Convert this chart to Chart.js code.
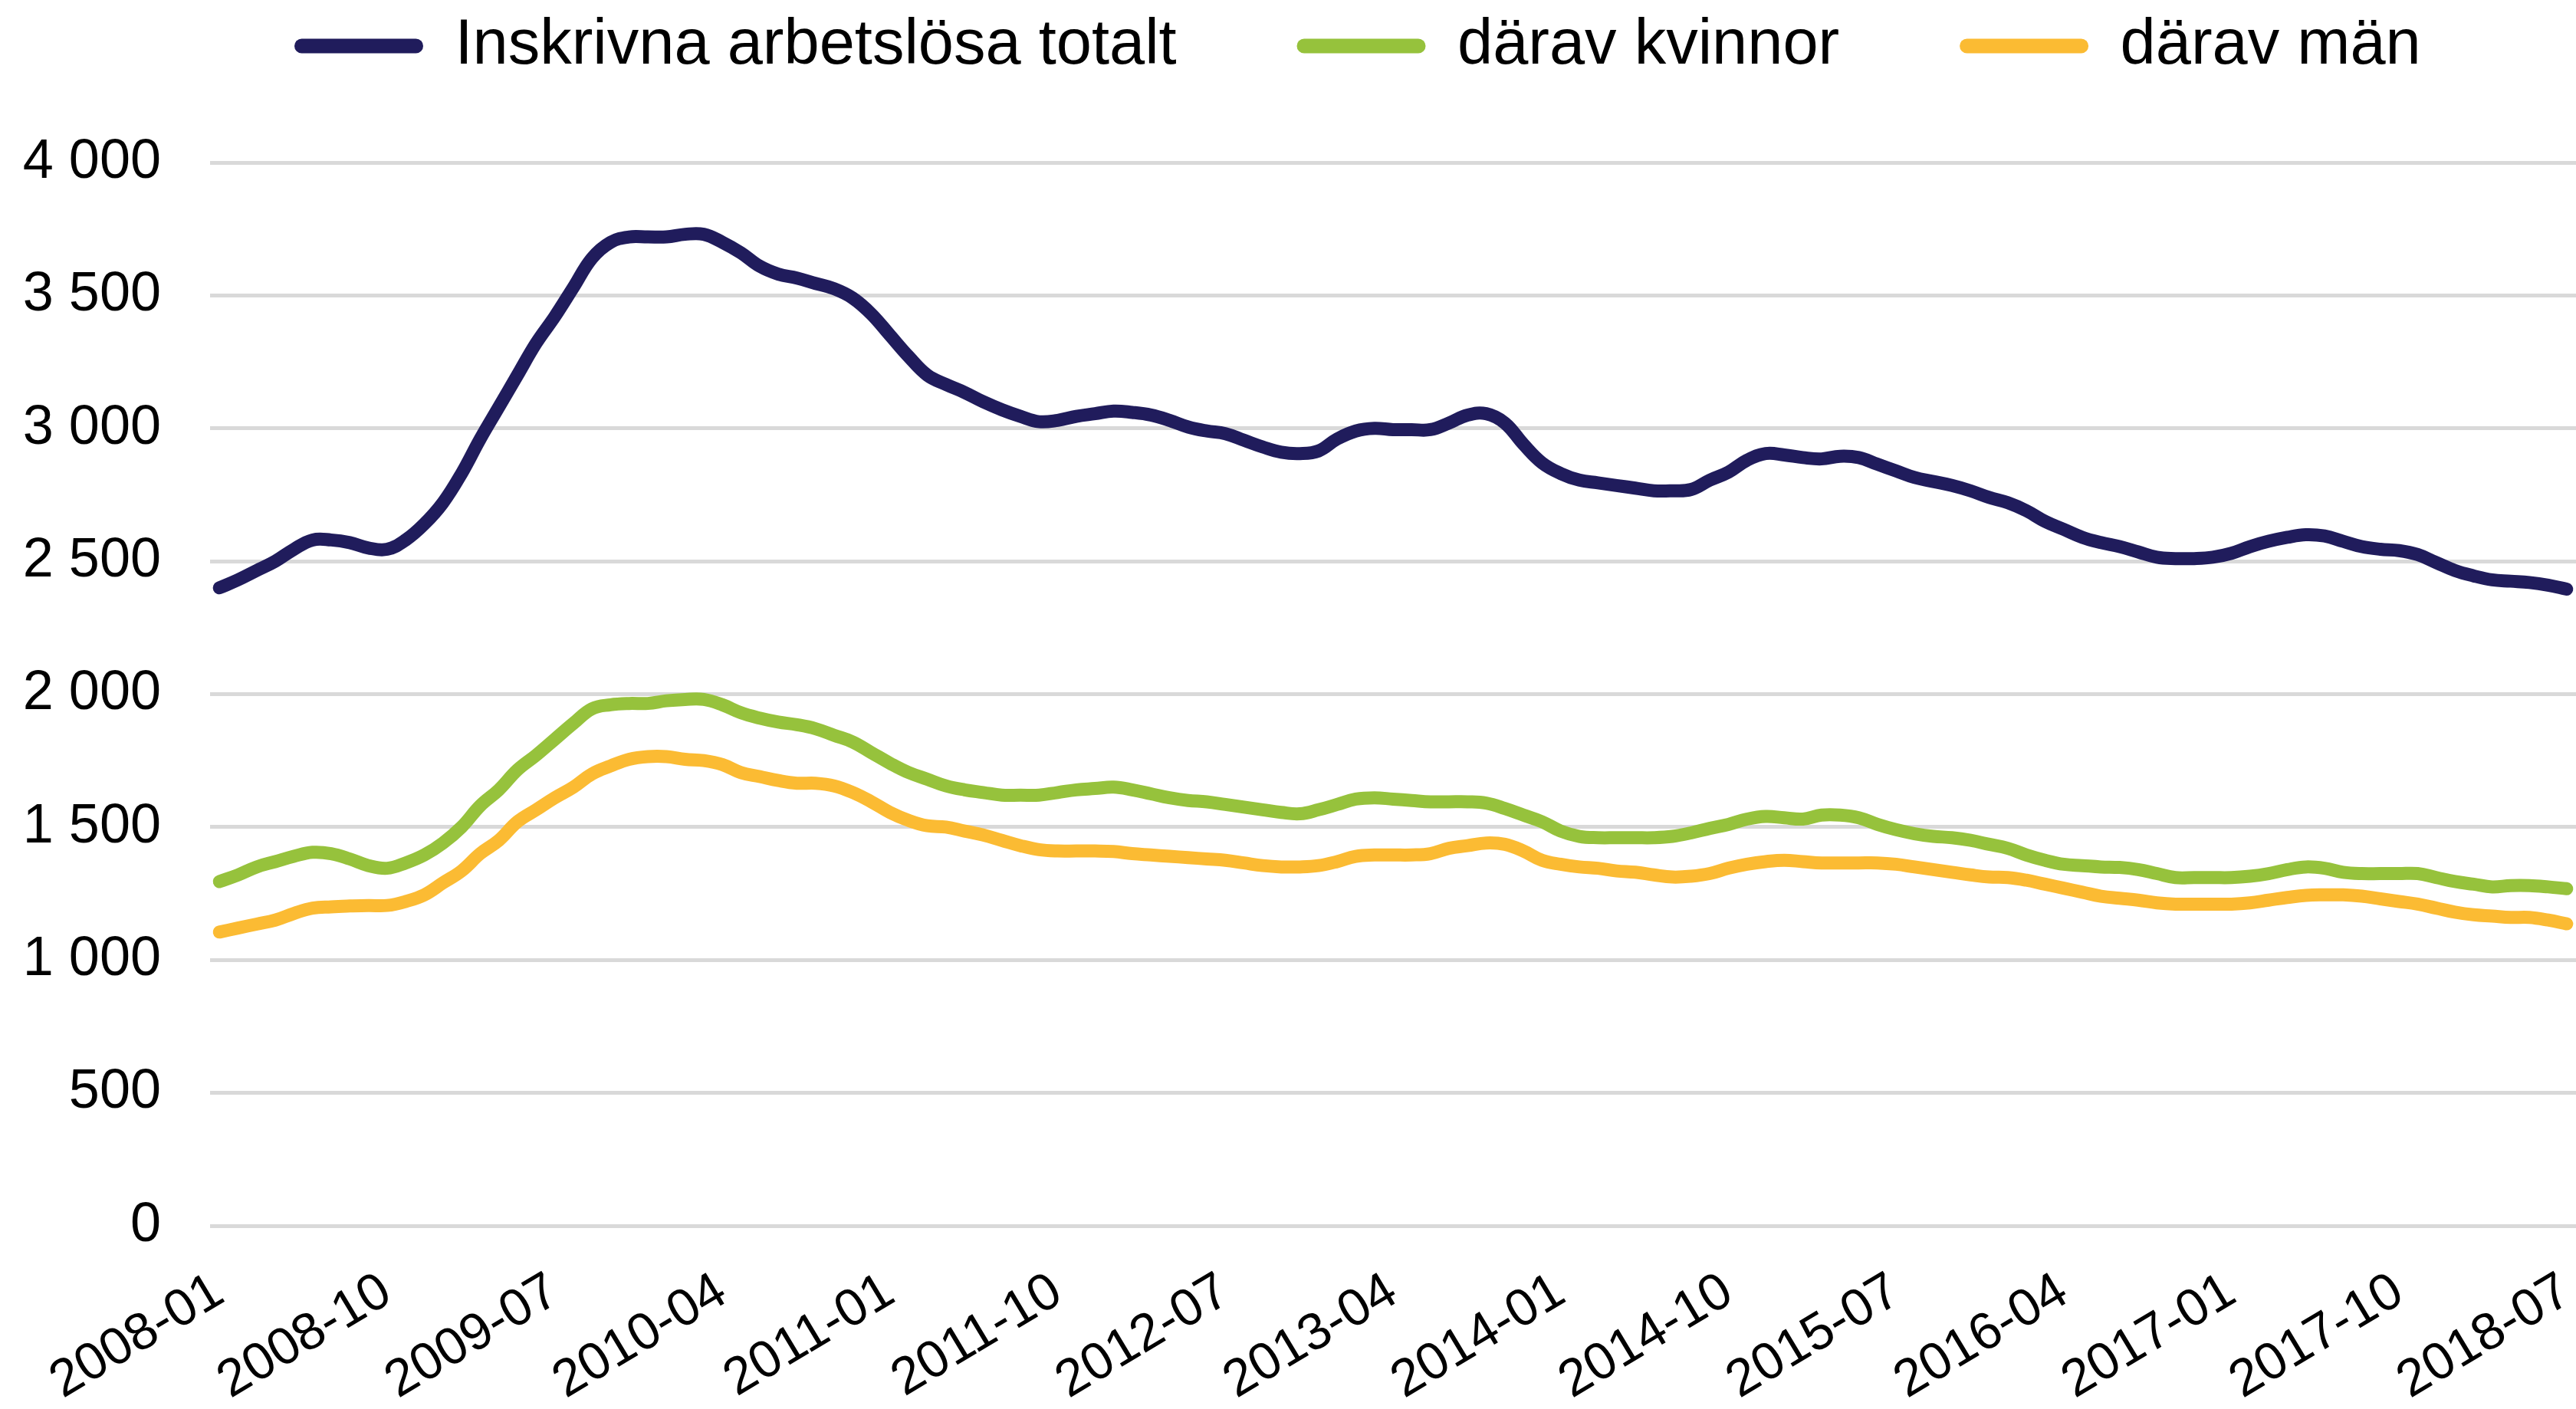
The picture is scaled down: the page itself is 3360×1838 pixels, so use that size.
<!DOCTYPE html>
<html>
<head>
<meta charset="utf-8">
<script src="https://cdn.jsdelivr.net/npm/chart.js@4.4.1/dist/chart.umd.min.js"></script>
<style>
  html, body { margin: 0; padding: 0; background: #fff; }
  #wrap { width: 3360px; height: 1838px; position: relative; }
</style>
</head>
<body>
<div id="wrap"><canvas id="chart"></canvas></div>
<script>
// monthly categories 2008-01 .. 2018-07
const startYear = 2008;
const monthCount = 127;
const months = [];
for (let i = 0; i < monthCount; i++) {
  const y = startYear + Math.floor(i / 12);
  const m = (i % 12) + 1;
  months.push(y + '-' + (m < 10 ? '0' + m : m));
}

const seriesNames = ['Inskrivna arbetslösa totalt', 'därav kvinnor', 'därav män'];
const seriesColors = ['#201c5c', '#96c23c', '#fbbb33'];

// one value per month
const totalt = [
  2400, 2430, 2465, 2500, 2545, 2580, 2580, 2570, 2550, 2545, 2580, 2640,
  2720, 2830, 2960, 3080, 3200, 3320, 3420, 3530, 3640, 3700, 3720, 3720,
  3720, 3730, 3730, 3700, 3660, 3610, 3580, 3565, 3545, 3525, 3490, 3430,
  3350, 3270, 3200, 3165, 3135, 3100, 3070, 3045, 3025, 3030, 3045, 3055,
  3065, 3060, 3050, 3030, 3005, 2990, 2980, 2955, 2930, 2910, 2905, 2915,
  2960, 2990, 3000, 2995, 2995, 2995, 3020, 3050, 3055, 3020, 2940, 2870,
  2830, 2805, 2795, 2785, 2775, 2765, 2765, 2770, 2805, 2835, 2880, 2905,
  2900, 2890, 2885, 2895, 2890, 2865, 2840, 2815, 2800, 2785, 2765, 2740,
  2720, 2690, 2650, 2620, 2590, 2570, 2555, 2535, 2515, 2510, 2510, 2515,
  2530, 2555, 2575, 2590, 2600, 2595, 2575, 2555, 2545, 2540, 2525, 2495,
  2465, 2445, 2430, 2425, 2420, 2410, 2395
];
const kvinnor = [
  1295, 1320, 1350, 1370, 1390, 1405, 1400, 1380, 1355, 1345, 1365, 1395,
  1440, 1500, 1580, 1640, 1715, 1770, 1830, 1890, 1945, 1960, 1965, 1965,
  1975, 1980, 1980, 1960, 1930, 1910, 1895, 1885, 1870, 1845, 1820, 1780,
  1740, 1705, 1680, 1655, 1640, 1630, 1620, 1620, 1620, 1630, 1640, 1645,
  1650, 1640, 1625, 1610, 1600, 1595, 1585, 1575, 1565, 1555, 1550, 1565,
  1585, 1605, 1610, 1605, 1600, 1595, 1595, 1595, 1590, 1570, 1545, 1520,
  1485, 1465, 1460, 1460, 1460, 1460, 1465, 1478, 1495, 1510, 1530, 1540,
  1535, 1530, 1545, 1545, 1535, 1510, 1490, 1475, 1465, 1460, 1450, 1435,
  1420, 1395, 1375, 1360, 1355, 1350, 1348, 1340, 1325, 1310, 1310, 1310,
  1310, 1315, 1325, 1340, 1350, 1345, 1330, 1325, 1325, 1325, 1325, 1310,
  1295, 1285, 1275, 1280, 1280, 1275, 1268
];
const man = [
  1105, 1120, 1135, 1150, 1175, 1195, 1200, 1203, 1205, 1205, 1220, 1245,
  1290, 1335, 1400, 1450, 1520, 1565, 1610, 1650, 1700, 1730, 1755, 1765,
  1765, 1755, 1750, 1735, 1705, 1690, 1675, 1665, 1665, 1655, 1630, 1595,
  1555, 1525, 1505, 1500, 1485, 1470, 1450, 1430, 1415, 1410, 1410, 1410,
  1408, 1400, 1395, 1390, 1385, 1380, 1375, 1365, 1355, 1350, 1350, 1355,
  1370, 1390, 1395, 1395, 1395, 1400, 1420, 1430, 1440, 1435, 1410, 1375,
  1360, 1350, 1345, 1335, 1330, 1320, 1312, 1315, 1325, 1345, 1360, 1370,
  1375, 1370, 1365, 1365, 1365, 1365, 1360, 1350, 1340, 1330, 1320, 1312,
  1310, 1300, 1285, 1270, 1255, 1240, 1232, 1225, 1215, 1210, 1210, 1210,
  1210, 1215, 1225, 1235, 1243, 1245, 1245, 1240, 1230, 1220, 1210, 1195,
  1180, 1170, 1165, 1160, 1160, 1150, 1136
];

const yTicks = [0, 500, 1000, 1500, 2000, 2500, 3000, 3500, 4000];
const labelEvery = 9;

const FONT = "'Liberation Sans', Arial, sans-serif";
const fmt = v => String(v).replace(/\B(?=(\d{3})+$)/g, ' ');

// spacing after legend texts (Excel legend has wide gaps)
const nb = n => '\u00a0'.repeat(n);
const legendGap = [nb(6), nb(6), nb(4)];

// legend taller than its items, so the plot starts lower
const legendHeight = {
  id: 'legendHeight',
  beforeInit(chart) {
    const fit = chart.legend.fit;
    chart.legend.fit = function () {
      fit.call(this);
      this.height = 212;
    };
  }
};

const mk = (i, data) => ({
  label: seriesNames[i],
  data: data,
  borderColor: seriesColors[i],
  backgroundColor: seriesColors[i],
  borderWidth: 17,
  pointRadius: 0,
  tension: 0.4,
  borderCapStyle: 'round',
  borderJoinStyle: 'round',
  fill: false
});

new Chart(document.getElementById('chart'), {
  type: 'line',
  data: {
    labels: months,
    datasets: [mk(0, totalt), mk(1, kvinnor), mk(2, man)]
  },
  options: {
    responsive: true,
    maintainAspectRatio: false,
    animation: false,
    devicePixelRatio: 1,
    layout: { padding: 0 },
    plugins: {
      tooltip: { enabled: false },
      legend: {
        position: 'top',
        fullSize: false,
        labels: {
          color: '#000',
          font: { family: FONT, size: 83 },
          padding: 18.5,
          boxWidth: 168,
          boxHeight: 19,
          useBorderRadius: true,
          borderRadius: 9.5,
          generateLabels: chart => chart.data.datasets.map((ds, i) => ({
            text: ds.label + legendGap[i],
            fillStyle: ds.borderColor,
            strokeStyle: ds.borderColor,
            lineWidth: 0,
            borderRadius: 9.5,
            fontColor: '#000',
            hidden: false,
            datasetIndex: i
          }))
        }
      }
    },
    scales: {
      x: {
        offset: true,
        grid: { display: false, drawTicks: false },
        border: { display: false },
        ticks: {
          autoSkip: false,
          minRotation: 31,
          maxRotation: 31,
          padding: 46,
          color: '#000',
          font: { family: FONT, size: 68 },
          callback: function (val, idx) {
            return idx % labelEvery === 0 ? months[idx] : '';
          }
        },
        afterFit: s => {
          s.height = 239;
          s.paddingLeft = 0;
          s.paddingRight = 0;
        }
      },
      y: {
        min: 0,
        max: 4000,
        afterBuildTicks: s => { s.ticks = yTicks.map(v => ({ value: v })); },
        grid: { color: '#d9d9d9', lineWidth: 5, drawTicks: false },
        border: { display: false },
        ticks: {
          padding: 64,
          color: '#000',
          font: { family: FONT, size: 72 },
          callback: v => fmt(v)
        },
        afterFit: s => { s.width = 274; }
      }
    }
  },
  plugins: [legendHeight]
});
</script>
</body>
</html>
